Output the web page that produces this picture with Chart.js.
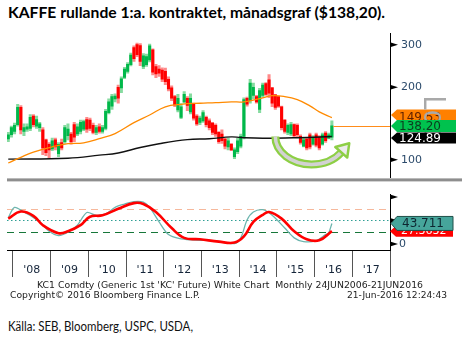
<!DOCTYPE html>
<html>
<head>
<meta charset="utf-8">
<script src="https://cdn.jsdelivr.net/npm/chart.js@4.4.1/dist/chart.umd.min.js"></script>
<style>
  body { margin: 0; background: #fff; }
  #page { position: relative; width: 462px; height: 342px; overflow: hidden; background: #fff; }
  canvas { position: absolute; left: 0; }
  .fit { position: absolute; white-space: pre; transform-origin: 0 0; }
  #title { left: 8px; top: 4px; font: bold 16px Lato, sans-serif; line-height: 16px; color: #000; }
  .bbg { font: 8.5px "DejaVu Sans", sans-serif; line-height: 8.5px; color: #222; }
  #source { left: 8px; top: 320px; font: 12.5px Lato, sans-serif; line-height: 13px; color: #111; }
</style>
</head>
<body>
<div id="page">
  <div id="title" class="fit" data-w="377">KAFFE rullande 1:a. kontraktet, månadsgraf ($138,20).</div>
  <canvas id="price" width="462" height="195" style="top:0"></canvas>
  <canvas id="stoch" width="462" height="85" style="top:193px"></canvas>
  <div class="fit bbg" data-w="386" style="left:37px;top:281px">KC1 Comdty (Generic 1st 'KC' Future) White Chart  Monthly 24JUN2006-21JUN2016</div>
  <div class="fit bbg" data-w="190" style="left:10px;top:291px">Copyright© 2016 Bloomberg Finance L.P.</div>
  <div class="fit bbg" data-w="100" style="left:347px;top:291px">21-Jun-2016 12:24:43</div>
  <div id="source" class="fit" data-w="185">Källa: SEB, Bloomberg, USPC, USDA,</div>
</div>
<script>
// monthly candles, Nov 2007 - Jun 2016
const months = [
  '2007-11','2007-12',
  '2008-01','2008-02','2008-03','2008-04','2008-05','2008-06','2008-07','2008-08','2008-09','2008-10','2008-11','2008-12',
  '2009-01','2009-02','2009-03','2009-04','2009-05','2009-06','2009-07','2009-08','2009-09','2009-10','2009-11','2009-12',
  '2010-01','2010-02','2010-03','2010-04','2010-05','2010-06','2010-07','2010-08','2010-09','2010-10','2010-11','2010-12',
  '2011-01','2011-02','2011-03','2011-04','2011-05','2011-06','2011-07','2011-08','2011-09','2011-10','2011-11','2011-12',
  '2012-01','2012-02','2012-03','2012-04','2012-05','2012-06','2012-07','2012-08','2012-09','2012-10','2012-11','2012-12',
  '2013-01','2013-02','2013-03','2013-04','2013-05','2013-06','2013-07','2013-08','2013-09','2013-10','2013-11','2013-12',
  '2014-01','2014-02','2014-03','2014-04','2014-05','2014-06','2014-07','2014-08','2014-09','2014-10','2014-11','2014-12',
  '2015-01','2015-02','2015-03','2015-04','2015-05','2015-06','2015-07','2015-08','2015-09','2015-10','2015-11','2015-12',
  '2016-01','2016-02','2016-03','2016-04','2016-05','2016-06'
];
const opens = [
  122,127,
  131,140,165,131,134,135,152,138,136,133,121,116,
  111,121,106,118,119,126,128,140,128,131,134,147,
  146,139,130,137,131,135,157,167,179,200,199,220,
  233,248,292,301,298,244,248,260,286,244,238,236,
  233,216,199,183,161,150,174,180,158,170,152,143,
  145,150,145,142,139,130,128,122,113,116,103,108,
  114,125,180,176,185,183,162,185,207,215,199,186,
  183,166,146,130,128,140,139,125,114,122,127,116,
  127,124,116,129,123,124
];
const highs = [
  130,138,
  142,170,168,141,141,154,154,152,143,136,122,118,
  123,123,118,122,139,141,130,143,141,146,146,150,
  149,142,139,141,139,162,179,187,188,204,221,242,
  253,277,297,305,304,276,275,302,289,249,246,241,
  240,221,203,185,187,171,192,183,188,172,154,152,
  160,152,148,143,141,131,133,123,123,117,112,123,
  128,181,182,216,208,185,198,208,209,226,200,187,
  184,167,147,141,143,141,141,127,123,123,129,126,
  129,126,129,131,129,145
];
const lows = [
  119,124,
  128,138,128,126,131,132,137,135,131,105,104,101,
  109,110,103,110,117,121,116,119,126,128,132,130,
  132,128,127,129,129,133,155,162,174,172,190,217,
  229,245,256,268,246,239,244,255,225,219,222,211,
  205,193,176,166,158,148,172,160,155,146,139,140,
  143,137,133,127,125,117,117,111,110,109,101,106,
  112,122,167,172,179,172,157,182,185,181,166,162,
  165,133,129,127,126,124,124,116,113,110,111,115,
  113,110,115,118,122,121
];
const closes = [
  127,136,
  139,165,133,136,137,150,140,147,141,112,107,110,
  120,113,116,112,136,134,119,124,137,143,144,134,
  135,130,136,131,136,159,174,183,184,180,217,238,
  249,272,263,273,256,270,268,297,231,227,229,216,
  211,197,180,169,180,166,187,168,180,149,141,149,
  157,140,136,130,128,119,120,114,120,110,110,120,
  125,178,170,208,200,174,194,204,187,189,172,165,
  167,136,131,139,140,126,127,118,121,112,113,124,
  115,112,127,120,127,138.2
];

// moving averages (orange = short, black = long)
const orangeMonths = ['2007-11','2008-03','2008-07','2009-01','2009-06','2009-11','2010-04','2010-09','2011-03','2011-08','2012-01','2012-06','2012-12','2013-05','2013-10','2014-02','2014-07','2014-11','2015-03','2015-07','2015-11','2016-02','2016-06'];
const orangeValues = [97,102.4,107.6,113.2,116.6,117.6,122.3,128.5,142.6,153.4,166,170,171.7,172.6,174,174,179.5,184.6,183,177.7,167.5,158,149.53];
const blackMonths = ['2007-11','2009-06','2010-04','2010-10','2011-05','2011-11','2012-08','2013-03','2013-10','2014-01','2014-08','2015-07','2016-06'];
const blackValues = [100.6,101.5,104.5,106.7,112.5,116.6,121.2,122.3,124.5,123.7,122.9,123.5,124.89];

// stochastic oscillator
const fastMonths = ['2007-11','2008-01','2008-04','2008-06','2008-09','2008-12','2009-03','2009-06','2009-09','2009-12','2010-03','2010-06','2010-09','2010-12','2011-03','2011-06','2011-08','2011-11','2012-02','2012-06','2012-12','2013-05','2013-11','2014-01','2014-03','2014-05','2014-08','2014-11','2015-03','2015-06','2015-09','2016-01','2016-04','2016-05','2016-06'];
const fastValues = [56,78,68,61,47,27,18,25,40,67,61,64,78,85,90,89,78,47,20,11,8,7,1,13,51,68,73,61,34,13,5,7,20,24,43.711];
const slowMonths = ['2007-11','2008-03','2008-07','2008-10','2009-03','2009-06','2009-10','2010-01','2010-05','2010-10','2011-03','2011-06','2011-10','2012-03','2012-07','2012-12','2013-06','2013-11','2014-02','2014-05','2014-08','2014-10','2015-02','2015-06','2015-10','2016-02','2016-06'];
const slowValues = [54,69,60,40,23,27,40,58,61,75,87,85,68,34,13,10,5,3,16,47,62,68,54,27,10,8,27.3632];
const stochLevels = [75, 50, 25];

const priceTicks = [100, 200, 300];
const stochTicks = [0, 50, 100];
const yearLabels = ["'08", "'09", "'10", "'11", "'12", "'13", "'14", "'15", "'16", "'17"];

// the curved "turn" arrow drawn on the price panel
const turnArrow = { from: '2014-12', to: '2016-11', top: 124.8, bottom: 95.7 };

function monthPos(s) {
  const [yr, mo] = s.split('-').map(Number);
  return (yr - 2008) * 12 + (mo - 1) + 0.5;
}
const xMin = -1.9, xMax = 120;
const axisFont = { family: 'DejaVu Sans', size: 11 };

const up = months.map((m, i) => closes[i] >= opens[i]);

function tri(ctx, x, y) {
  ctx.beginPath();
  ctx.moveTo(x, y - 2.5);
  ctx.lineTo(x + 8, y);
  ctx.lineTo(x, y + 2.5);
  ctx.closePath();
  ctx.fillStyle = '#000';
  ctx.fill();
}

function drawTag(ctx, yc, h, x0, x1, bg, fg, text, font, tx, ty, outline) {
  ctx.beginPath();
  ctx.moveTo(x0, yc);
  ctx.lineTo(x0 + 6, yc - h / 2);
  ctx.lineTo(x1, yc - h / 2);
  ctx.lineTo(x1, yc + h / 2);
  ctx.lineTo(x0 + 6, yc + h / 2);
  ctx.closePath();
  ctx.fillStyle = bg;
  ctx.fill();
  if (outline) {
    ctx.strokeStyle = outline;
    ctx.lineWidth = 1;
    ctx.stroke();
  }
  ctx.fillStyle = fg;
  ctx.font = font;
  ctx.textAlign = 'left';
  ctx.textBaseline = 'middle';
  ctx.fillText(text, tx, ty);
}

function drawTurnArrow(ctx, x, y) {
  const x0 = x.getPixelForValue(monthPos(turnArrow.from));
  const x1 = x.getPixelForValue(monthPos(turnArrow.to));
  const cx = (x0 + x1) / 2, rx = (x1 - x0) / 2;
  const cy = y.getPixelForValue(turnArrow.top);
  const ry = y.getPixelForValue(turnArrow.bottom) - cy;
  const te = 0.6;
  ctx.lineCap = 'butt';
  ctx.beginPath();
  ctx.ellipse(cx, cy, rx, ry, 0, Math.PI, te, true);
  ctx.strokeStyle = '#8dcf45';
  ctx.lineWidth = 8;
  ctx.stroke();
  ctx.beginPath();
  ctx.ellipse(cx, cy, rx, ry, 0, Math.PI, te, true);
  ctx.strokeStyle = '#d2d2d2';
  ctx.lineWidth = 3.5;
  ctx.stroke();
  const ex = cx + rx * Math.cos(te), ey = cy + ry * Math.sin(te);
  let tx = rx * Math.sin(te), ty = -ry * Math.cos(te);
  const l = Math.hypot(tx, ty);
  tx /= l; ty /= l;
  const nx = -ty, ny = tx;
  ctx.beginPath();
  ctx.moveTo(ex + tx * 12, ey + ty * 12);
  ctx.lineTo(ex + nx * 8, ey + ny * 8);
  ctx.lineTo(ex - nx * 8, ey - ny * 8);
  ctx.closePath();
  ctx.fillStyle = '#ececec';
  ctx.fill();
  ctx.strokeStyle = '#8dcf45';
  ctx.lineWidth = 2.5;
  ctx.lineJoin = 'round';
  ctx.stroke();
}

const priceDecor = {
  id: 'priceDecor',
  afterDraw(chart) {
    const { ctx, chartArea: a, scales: { x, y } } = chart;
    ctx.save();
    // last price line
    const lx = x.getPixelForValue(monthPos(months[months.length - 1]));
    const ly = Math.round(y.getPixelForValue(closes[closes.length - 1])) + 0.5;
    ctx.strokeStyle = '#ff8c1a';
    ctx.lineWidth = 1;
    ctx.beginPath();
    ctx.moveTo(lx + 1.5, ly);
    ctx.lineTo(a.right, ly);
    ctx.stroke();

    drawTurnArrow(ctx, x, y);

    // panel separator
    ctx.fillStyle = '#8e8e8e';
    ctx.fillRect(a.left, a.bottom + 1, 462 - a.left, 3);

    y.ticks.forEach(t => tri(ctx, a.right, y.getPixelForValue(t.value)));

    // value tags
    const font = '12px "DejaVu Sans"';
    const oLast = orangeValues[orangeValues.length - 1];
    const bLast = blackValues[blackValues.length - 1];
    const cLast = closes[closes.length - 1];
    const yg = y.getPixelForValue(cLast);
    const yo = Math.min(y.getPixelForValue(oLast), yg - 11);
    const yb = Math.max(y.getPixelForValue(bLast), yg + 12);
    drawTag(ctx, yo, 11, a.right + 1, 456, '#ff8000', '#5c1f00', oLast.toFixed(2), font, 399, yo + 3);

    // "Log" watermark
    ctx.save();
    ctx.translate(424, 96);
    ctx.rotate(Math.PI / 2);
    ctx.scale(0.8, 1);
    ctx.font = '32px "Liberation Sans"';
    ctx.fillStyle = '#a9a9a9';
    ctx.textBaseline = 'alphabetic';
    ctx.fillText('Log', 0, 0);
    ctx.restore();

    drawTag(ctx, yb, 11, a.right + 1, 456, '#000', '#fff', bLast.toFixed(2), font, 399, yb + 0.5);
    drawTag(ctx, yg, 12, a.right + 1, 456, '#00c24e', '#0b3b1e', cLast.toFixed(2), font, 399, yg + 0.5);
    ctx.restore();
  }
};

const levelStyles = [
  { color: '#f6b89c', dash: [7, 5], width: 1 },
  { color: '#2f9e94', dash: [1.5, 2.5], width: 1 },
  { color: '#17773a', dash: [7, 5], width: 1.2 }
];

const stochDecor = {
  id: 'stochDecor',
  beforeDatasetsDraw(chart) {
    const { ctx, chartArea: a, scales: { y } } = chart;
    ctx.save();
    stochLevels.forEach((v, i) => {
      const s = levelStyles[i];
      const py = Math.round(y.getPixelForValue(v)) + 0.5;
      ctx.setLineDash(s.dash);
      ctx.strokeStyle = s.color;
      ctx.lineWidth = s.width;
      ctx.beginPath();
      ctx.moveTo(a.left, py);
      ctx.lineTo(a.right, py);
      ctx.stroke();
    });
    ctx.restore();
  },
  afterDraw(chart) {
    const { ctx, chartArea: a, scales: { x, y } } = chart;
    ctx.save();
    // year labels centred between the year ticks
    ctx.font = '11px "DejaVu Sans"';
    ctx.fillStyle = '#15253a';
    ctx.textAlign = 'center';
    ctx.textBaseline = 'middle';
    yearLabels.forEach((lab, i) => {
      ctx.fillText(lab, x.getPixelForValue(i * 12 + 6), a.bottom + 20);
    });
    y.ticks.forEach(t => tri(ctx, a.right, y.getPixelForValue(t.value)));
    ctx.fillStyle = '#2b4a6b';
    ctx.textAlign = 'left';
    ctx.fillText(String(stochTicks[0]), a.right + 9, y.getPixelForValue(stochTicks[0]));
    const sLast = slowValues[slowValues.length - 1];
    const fLast = fastValues[fastValues.length - 1];
    const ys = y.getPixelForValue(sLast), yf = y.getPixelForValue(fLast);
    drawTag(ctx, ys, 11, a.right, 453, '#ff0000', '#fff', sLast.toFixed(4), '11px "DejaVu Sans"', 401, ys + 0.5);
    drawTag(ctx, yf, 14, a.right + 1, 453, '#46a59b', '#0d2630', fLast.toFixed(3), '12px "DejaVu Sans"', 402, yf + 0.5, '#1f4f49');
    ctx.restore();
  }
};

new Chart(document.getElementById('price'), {
  type: 'bar',
  data: {
    datasets: [
      {
        type: 'line',
        data: orangeMonths.map((m, i) => ({ x: monthPos(m), y: orangeValues[i] })),
        borderColor: '#ff8a00',
        borderWidth: 1.3,
        pointRadius: 0,
        tension: 0.4,
        order: 0
      },
      {
        type: 'line',
        data: blackMonths.map((m, i) => ({ x: monthPos(m), y: blackValues[i] })),
        borderColor: '#111',
        borderWidth: 1.4,
        pointRadius: 0,
        tension: 0.4,
        order: 0
      },
      {
        data: months.map((m, i) => ({ x: monthPos(m), y: [lows[i], highs[i]] })),
        backgroundColor: up.map(u => (u ? '#86dba0' : '#ff8a8a')),
        barThickness: 2.4,
        grouped: false,
        order: 2
      },
      {
        data: months.map((m, i) => ({ x: monthPos(m), y: [opens[i], closes[i]] })),
        backgroundColor: up.map(u => (u ? '#00b84a' : '#ff0000')),
        barThickness: 2.4,
        grouped: false,
        order: 1
      }
    ]
  },
  options: {
    responsive: false,
    animation: false,
    events: [],
    layout: { padding: { left: 7, top: 33, bottom: 6, right: 0 } },
    plugins: { legend: { display: false }, tooltip: { enabled: false } },
    scales: {
      x: { type: 'linear', min: xMin, max: xMax, display: false, offset: false, grid: { offset: false } },
      y: {
        type: 'logarithmic',
        position: 'right',
        min: 84.5,
        max: 336,
        afterBuildTicks: s => { s.ticks = priceTicks.map(v => ({ value: v })); },
        afterFit: s => { s.width = 72; },
        ticks: { callback: v => String(v), font: axisFont, color: '#2b4a6b', padding: 11 },
        grid: { display: false, drawTicks: false },
        border: { display: true, color: '#000', width: 1 }
      }
    }
  },
  plugins: [priceDecor]
});

new Chart(document.getElementById('stoch'), {
  type: 'line',
  data: {
    datasets: [
      {
        data: slowMonths.map((m, i) => ({ x: monthPos(m), y: slowValues[i] })),
        borderColor: '#ff0000',
        borderWidth: 2.6,
        pointRadius: 0,
        tension: 0.4,
        order: 0
      },
      {
        data: fastMonths.map((m, i) => ({ x: monthPos(m), y: fastValues[i] })),
        borderColor: '#6db5ae',
        borderWidth: 1.3,
        pointRadius: 0,
        tension: 0.3,
        order: 1
      }
    ]
  },
  options: {
    responsive: false,
    animation: false,
    events: [],
    layout: { padding: { left: 7, top: 1, bottom: 1, right: 0 } },
    plugins: { legend: { display: false }, tooltip: { enabled: false } },
    scales: {
      x: {
        type: 'linear',
        min: xMin,
        max: xMax,
        offset: false,
        afterBuildTicks: s => { s.ticks = yearLabels.concat(['']).map((_, i) => ({ value: i * 12 })); },
        afterFit: s => { s.height = 27; },
        ticks: { display: false },
        grid: { display: true, drawOnChartArea: false, drawTicks: true, tickLength: 27, color: '#555', offset: false },
        border: { display: true, color: '#000', width: 1 }
      },
      y: {
        type: 'linear',
        position: 'right',
        min: -12.8,
        max: 106.4,
        afterBuildTicks: s => { s.ticks = stochTicks.map(v => ({ value: v })); },
        afterFit: s => { s.width = 72; },
        ticks: { display: false },
        grid: { display: false, drawTicks: false },
        border: { display: true, color: '#000', width: 1 }
      }
    }
  },
  plugins: [stochDecor]
});

document.querySelectorAll('.fit').forEach(el => {
  const w = el.getBoundingClientRect().width;
  el.style.transform = 'scaleX(' + (el.dataset.w / w) + ')';
});
</script>
</body>
</html>
